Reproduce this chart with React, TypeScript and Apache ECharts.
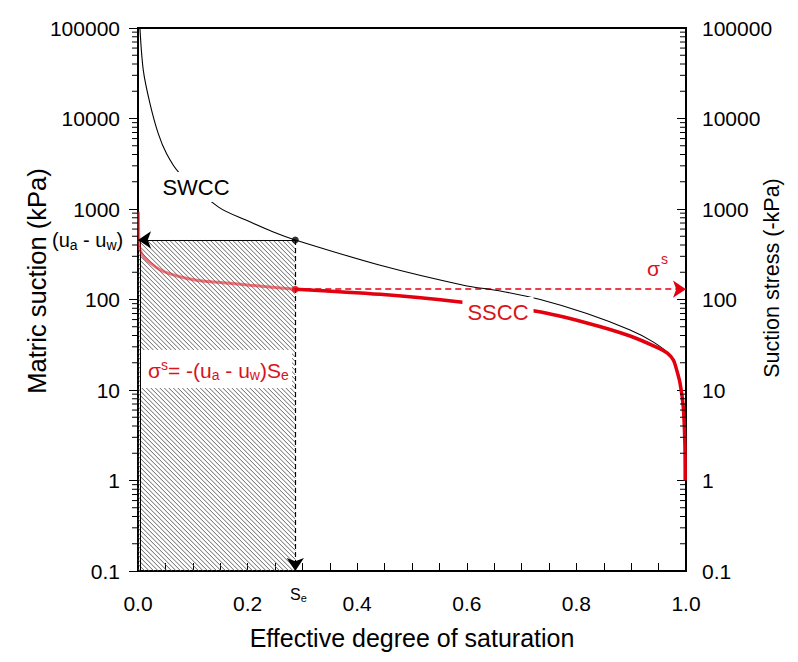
import React, { useEffect, useRef } from "react";
import * as echarts from "echarts";

// ---- data ----
const swccSe = [0.0035, 0.0097, 0.022, 0.037, 0.052, 0.074, 0.147, 0.198, 0.247, 0.287, 0.442, 0.594, 0.661, 0.734, 0.819, 0.898, 0.94, 0.97, 0.985, 0.993, 0.997, 0.9985];
const swccSuction = [100000, 34000, 14500, 6800, 4100, 2560, 1050, 750, 557, 455, 239, 144, 124, 100, 70, 46, 34, 24.5, 16, 8.5, 3.2, 1.0];

const ssccLightSe = [0.0008, 0.0024, 0.0067, 0.016, 0.046, 0.107, 0.162, 0.204, 0.287];
const ssccLightStress = [930, 381, 322, 272, 205, 163, 152, 144, 130];

const ssccSe = [0.287, 0.442, 0.588, 0.727, 0.819, 0.898, 0.95, 0.966, 0.977, 0.983, 0.989, 0.995, 0.998, 0.9985];
const ssccStress = [130, 114, 94, 74, 55, 39.5, 29, 25.5, 21.4, 16.6, 12, 6.5, 2.5, 1.0];

// highlighted state point
const SE_POINT = 0.287;
const SUCTION_POINT = 455;
const STRESS_POINT = 130;

// axes
const X_MIN = 0;
const X_MAX = 1;
const X_TICK_STEP = 0.05;
const Y_MIN = 0.1;
const Y_MAX = 100000;
const DECADES = [0.1, 1, 10, 100, 1000, 10000];
const MINOR_MULTIPLIERS = [2, 3, 4, 5, 6, 7, 8, 9];

const X_TITLE = "Effective degree of saturation";
const Y_LEFT_TITLE = "Matric suction (kPa)";
const Y_RIGHT_TITLE = "Suction stress (-kPa)";

const FONT = "'Liberation Sans', Arial, Helvetica, sans-serif";
const RED = "#e3000f";
const TEXT_RED = "#d8141c";

const zip = (a: number[], b: number[]) => a.map((v, i) => [v, b[i]]);

const minorTicks: number[][] = [];
DECADES.forEach((d) => MINOR_MULTIPLIERS.forEach((m) => minorTicks.push([0, m * d])));

const yLabel = (v: number) => (v < 1 ? v.toFixed(1) : String(Math.round(v)));
const xLabel = (v: number) => {
  const k = v * 5;
  return Math.abs(k - Math.round(k)) < 1e-6 ? v.toFixed(1) : "";
};

const centered = { align: "center", verticalAlign: "middle", textAlign: "center", textVerticalAlign: "middle" };
const leftMid = { align: "left", verticalAlign: "middle", textAlign: "left", textVerticalAlign: "middle" };

function buildOption() {
  const yCommon = {
    type: "log",
    logBase: 10,
    min: Y_MIN,
    max: Y_MAX,
    splitNumber: 6,
    splitLine: { show: false },
    minorTick: { show: false },
    axisLine: { show: true, onZero: false, lineStyle: { color: "#000", width: 2 } },
    axisLabel: { fontSize: 21, color: "#000", fontFamily: FONT, formatter: yLabel },
  };
  return {
    animation: false,
    grid: {
      left: 138, right: 112, top: 28, bottom: 91,
      containLabel: false, outerBoundsMode: "none",
      show: true, borderColor: "#000", borderWidth: 2, backgroundColor: "transparent",
    },
    xAxis: {
      type: "value",
      min: X_MIN,
      max: X_MAX,
      interval: X_TICK_STEP,
      axisLine: { onZero: false, lineStyle: { color: "#000", width: 2 } },
      axisTick: { inside: true, length: 8, lineStyle: { color: "#000", width: 1 } },
      axisLabel: { interval: 0, margin: 22, fontSize: 21, color: "#000", fontFamily: FONT, formatter: xLabel },
      splitLine: { show: false },
    },
    yAxis: [
      {
        ...yCommon,
        position: "left",
        axisTick: { show: true, inside: false, length: 9, lineStyle: { color: "#000", width: 1 } },
        axisLabel: { ...yCommon.axisLabel, margin: 18 },
      },
      {
        ...yCommon,
        position: "right",
        axisTick: { show: true, inside: true, length: 9, lineStyle: { color: "#000", width: 1 } },
        axisLabel: { ...yCommon.axisLabel, margin: 16 },
      },
    ],
    series: [
      {
        type: "custom",
        name: "hatch",
        z: 1,
        silent: true,
        clip: false,
        data: [[X_MIN, SUCTION_POINT]],
        renderItem: (_p: any, api: any) => {
          const tl = api.coord([X_MIN, SUCTION_POINT]);
          const br = api.coord([SE_POINT, Y_MIN]);
          const x0 = tl[0], y0 = tl[1], x1 = br[0], y1 = br[1];
          const children: any[] = [];
          const step = 4.5;
          for (let c = y0 - x1; c <= y1 - x0; c += step) {
            const xs = Math.max(x0, y0 - c);
            const xe = Math.min(x1, y1 - c);
            if (xe > xs) {
              children.push({ type: "line", shape: { x1: xs, y1: xs + c, x2: xe, y2: xe + c }, style: { stroke: "#555", lineWidth: 0.9 } });
            }
          }
          children.push({ type: "line", shape: { x1: x0 + 2.5, y1: y0, x2: x0 + 2.5, y2: y1 }, style: { stroke: "#000", lineWidth: 1 } });
          return { type: "group", children };
        },
      },
      {
        type: "custom",
        name: "minorTicks",
        z: 7,
        silent: true,
        clip: false,
        data: minorTicks,
        renderItem: (_p: any, api: any) => {
          const v = api.value(1);
          const l = api.coord([X_MIN, v]);
          const r = api.coord([X_MAX, v]);
          return {
            type: "group",
            children: [
              { type: "line", shape: { x1: l[0] - 6, y1: l[1], x2: l[0], y2: l[1] }, style: { stroke: "#000", lineWidth: 1 } },
              { type: "line", shape: { x1: r[0] - 6, y1: r[1], x2: r[0], y2: r[1] }, style: { stroke: "#000", lineWidth: 1 } },
            ],
          };
        },
      },
      {
        type: "line",
        name: "SWCC",
        z: 5,
        data: zip(swccSe, swccSuction),
        showSymbol: false,
        smooth: 0.3,
        silent: true,
        lineStyle: { color: "#000", width: 1.1 },
        markLine: {
          silent: true,
          symbol: ["none", "arrow"],
          symbolSize: 13,
          label: { show: false },
          lineStyle: { color: "#000", width: 1.2, type: "solid" },
          data: [[{ coord: [SE_POINT, SUCTION_POINT] }, { coord: [X_MIN, SUCTION_POINT] }]],
        },
      },
      {
        type: "line",
        name: "SSCC-light",
        z: 4,
        data: zip(ssccLightSe, ssccLightStress),
        showSymbol: false,
        smooth: 0.3,
        silent: true,
        lineStyle: { color: "rgba(225,30,40,0.6)", width: 3 },
      },
      {
        type: "line",
        name: "SSCC",
        z: 6,
        data: zip(ssccSe, ssccStress),
        showSymbol: false,
        smooth: 0.3,
        silent: true,
        lineStyle: { color: RED, width: 3.5 },
      },
      {
        type: "scatter",
        name: "suction point",
        z: 8,
        silent: true,
        symbolSize: 7,
        itemStyle: { color: "#000" },
        data: [[SE_POINT, SUCTION_POINT]],
        markLine: {
          silent: true,
          symbol: ["none", "arrow"],
          symbolSize: 13,
          label: { show: false },
          lineStyle: { color: "#000", width: 1.2, type: [5, 3] },
          data: [[{ coord: [SE_POINT, SUCTION_POINT] }, { coord: [SE_POINT, Y_MIN] }]],
        },
      },
      {
        type: "scatter",
        name: "stress point",
        z: 8,
        silent: true,
        symbolSize: 7,
        itemStyle: { color: RED },
        data: [[SE_POINT, STRESS_POINT]],
        markLine: {
          silent: true,
          symbol: ["none", "arrow"],
          symbolSize: 13,
          label: { show: false },
          lineStyle: { color: RED, width: 1.5, type: [6, 4] },
          data: [[{ coord: [SE_POINT, STRESS_POINT] }, { coord: [X_MAX, STRESS_POINT] }]],
        },
      },
    ],
    graphic: [
      // axis titles
      { type: "text", z: 10, silent: true, x: 412, y: 638, style: { text: X_TITLE, font: `25px ${FONT}`, fill: "#000", ...centered } },
      { type: "text", z: 10, silent: true, x: 37, y: 281, rotation: Math.PI / 2, style: { text: Y_LEFT_TITLE, font: `25.5px ${FONT}`, fill: "#000", ...centered } },
      { type: "text", z: 10, silent: true, x: 772, y: 278, rotation: Math.PI / 2, style: { text: Y_RIGHT_TITLE, font: `21.5px ${FONT}`, fill: "#000", ...centered } },
      // annotations
      { type: "rect", z: 3, silent: true, shape: { x: 141, y: 350, width: 151, height: 38 }, style: { fill: "#fff" } },
      {
        type: "text",
        z: 10,
        x: 148,
        y: 370,
        silent: true,
        style: {
          text: "{m|σ}{sup|s}{m|= -(u}{sub|a}{m| - u}{sub|w}{m|)S}{sub|e}",
          ...leftMid,
          fill: TEXT_RED,
          rich: {
            m: { fontSize: 21, lineHeight: 24, fontFamily: FONT, fill: TEXT_RED },
            sub: { fontSize: 14, lineHeight: 13, verticalAlign: "bottom", fontFamily: FONT, fill: TEXT_RED },
            sup: { fontSize: 14, lineHeight: 7, verticalAlign: "top", fontFamily: FONT, fill: TEXT_RED },
          },
        },
      },
      {
        type: "text",
        z: 10,
        x: 52,
        y: 240,
        silent: true,
        style: {
          text: "{m|(u}{sub|a}{m| - u}{sub|w}{m|)}",
          ...leftMid,
          fill: "#000",
          rich: {
            m: { fontSize: 20, lineHeight: 24, fontFamily: FONT, fill: "#000" },
            sub: { fontSize: 14, lineHeight: 13, verticalAlign: "bottom", fontFamily: FONT, fill: "#000" },
          },
        },
      },
      {
        type: "text",
        z: 10,
        x: 196,
        y: 187,
        silent: true,
        style: { text: "SWCC", font: `22px ${FONT}`, fill: "#000", ...centered, backgroundColor: "#fff", padding: [4, 2] },
      },
      {
        type: "text",
        z: 10,
        x: 498,
        y: 312,
        silent: true,
        style: { text: "SSCC", font: `22px ${FONT}`, fill: TEXT_RED, ...centered, backgroundColor: "#fff", padding: [4, 5] },
      },
      { type: "text", z: 10, x: 647, y: 268, silent: true, style: { text: "σ", font: `21px ${FONT}`, fill: TEXT_RED, ...leftMid } },
      { type: "text", z: 10, x: 661, y: 259, silent: true, style: { text: "s", font: `14px ${FONT}`, fill: TEXT_RED, ...leftMid } },
      {
        type: "text",
        z: 10,
        x: 290,
        y: 594,
        silent: true,
        style: {
          text: "{m|S}{sub|e}",
          ...leftMid,
          fill: "#000",
          rich: {
            m: { fontSize: 16, lineHeight: 18, fontFamily: FONT, fill: "#000" },
            sub: { fontSize: 11, lineHeight: 10, verticalAlign: "bottom", fontFamily: FONT, fill: "#000" },
          },
        },
      },
    ],
  };
}

export default function App() {
  const ref = useRef<HTMLDivElement>(null);
  useEffect(() => {
    if (!ref.current) return;
    const chart = echarts.init(ref.current, null, { renderer: "svg" });
    chart.setOption(buildOption() as any);
    return () => chart.dispose();
  }, []);
  return <div ref={ref} style={{ position: "absolute", left: 0, top: 0, width: 798, height: 662, background: "#fff" }} />;
}
